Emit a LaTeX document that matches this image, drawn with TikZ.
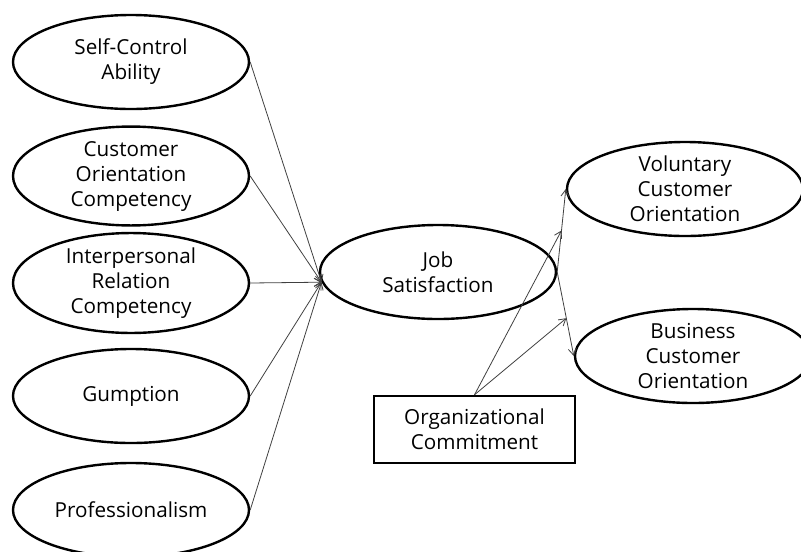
\documentclass[tikz,border=0pt]{standalone}
\usepackage{fontspec}
\setmainfont{Open Sans}
\usetikzlibrary{shapes.geometric,arrows.meta,calc}
\begin{document}
\begin{tikzpicture}[x=0.75pt,y=-0.75pt,font=\fontsize{15.5}{18.75}\selectfont,
  var/.style={ellipse,draw,line width=1.8pt,minimum width=177pt,minimum height=70.5pt,inner sep=0pt,align=center},
  path/.style={-{Straight Barb[length=5pt,width=6pt]},line width=0.6pt,black!75}]
\useasboundingbox (0,0) rectangle (801,551);
% predictors
\foreach \n/\y/\t in {sca/62/{Self-Control\\Ability},coc/176/{Customer\\Orientation\\Competency},
  irc/283/{Interpersonal\\Relation\\Competency},gum/396/{Gumption},pro/510/{Professionalism}}
  \node[var] (\n) at (131,\y) {\t};
\node[var] (js) at (438,272) {Job\\Satisfaction};
\node[var] (vco) at (685,189) {Voluntary\\Customer\\Orientation};
\node[var] (bco) at (693,356) {Business\\Customer\\Orientation};
\node[draw,line width=1.8pt,minimum width=150.75pt,minimum height=50.25pt,align=center] (oc) at (474.5,429.5) {Organizational\\Commitment};
\foreach \n in {sca,coc,irc,gum,pro} \draw[path] (\n.east) -- (js.185);
\draw[path] (js.east) -- (vco.west);
\draw[path] (js.east) -- (bco.west);
% moderating paths
\coordinate (m1) at ($(js.east)!0.5!(vco.west)$);
\coordinate (m2) at ($(js.east)!0.55!(bco.west)$);
\draw[path] (oc.north) -- (m1);
\draw[path] (oc.north) -- (m2);
\end{tikzpicture}
\end{document}
